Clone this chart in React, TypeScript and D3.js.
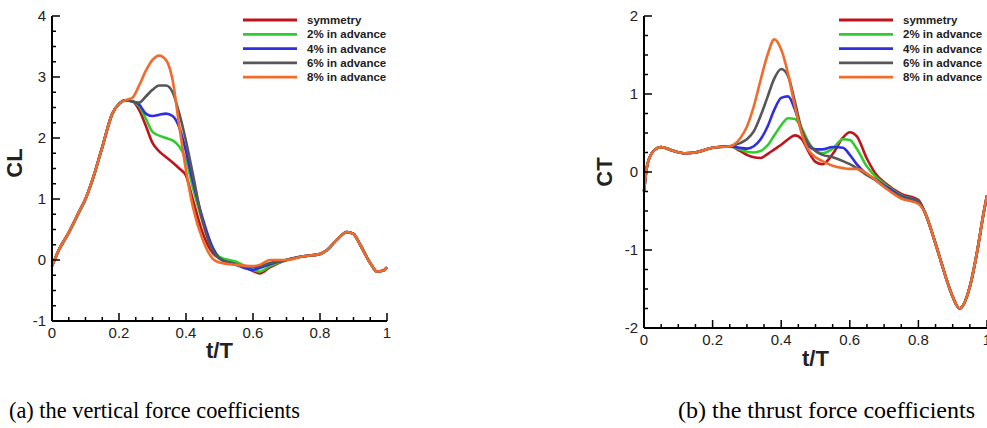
import * as d3 from 'd3'

// series names and colours
const seriesNames = ['symmetry', '2% in advance', '4% in advance', '6% in advance', '8% in advance']
const seriesColors = ['#c0141c', '#2fcc2f', '#2f2fe0', '#575757', '#f26b2a']

// (a) vertical force coefficient CL
const clTime = [0, 0.02, 0.05, 0.08, 0.1, 0.12, 0.15, 0.18, 0.2, 0.22,
  0.24, 0.26, 0.28, 0.3, 0.32, 0.34, 0.36, 0.38, 0.4, 0.42, 0.45, 0.48, 0.5, 0.55, 0.6, 0.62, 0.65,
  0.7, 0.75, 0.8, 0.82, 0.85, 0.88, 0.9, 0.92, 0.95, 0.97, 0.99, 1]
const clHead = [-0.1, 0.16, 0.45, 0.78, 1.0, 1.3, 1.85, 2.4, 2.56, 2.62]
const clTail = [0.0, 0.06, 0.1, 0.16, 0.33, 0.46, 0.43, 0.25, -0.05, -0.19, -0.17, -0.12]
const clSymmetry = [2.6, 2.46, 2.2, 1.92, 1.78, 1.69, 1.6, 1.5, 1.38, 1.0, 0.44, 0.11, 0.03, -0.04, -0.18, -0.22, -0.12]
const clAdv2 = [2.6, 2.52, 2.32, 2.1, 2.04, 2.0, 1.96, 1.86, 1.64, 1.2, 0.62, 0.2, 0.05, -0.03, -0.16, -0.19, -0.1]
const clAdv4 = [2.6, 2.55, 2.4, 2.36, 2.38, 2.4, 2.36, 2.17, 1.78, 1.3, 0.68, 0.2, 0.03, -0.08, -0.16, -0.13, -0.07]
const clAdv6 = [2.6, 2.58, 2.68, 2.79, 2.86, 2.86, 2.75, 2.4, 1.95, 1.42, 0.62, 0.15, 0.02, -0.08, -0.11, -0.1, -0.05]
const clAdv8 = [2.66, 2.86, 3.1, 3.28, 3.35, 3.28, 2.95, 2.19, 1.47, 0.88, 0.33, 0.02, -0.04, -0.08, -0.1, -0.08, 0.0]

// (b) thrust force coefficient CT
const ctTime = [0, 0.01, 0.03, 0.05, 0.08, 0.12, 0.15, 0.2, 0.25,
  0.28, 0.3, 0.32, 0.34, 0.36, 0.38, 0.4, 0.42, 0.44, 0.46, 0.48, 0.5, 0.52, 0.55, 0.58, 0.6, 0.62, 0.65, 0.68, 0.7, 0.75, 0.8,
  0.82, 0.85, 0.88, 0.9, 0.92, 0.95, 0.97, 0.99, 1]
const ctHead = [-0.25, 0.1, 0.28, 0.32, 0.28, 0.24, 0.25, 0.31, 0.33]
const ctTail = [-0.53, -0.92, -1.35, -1.6, -1.75, -1.47, -1.05, -0.53, -0.3]
const ctSymmetry = [0.27, 0.22, 0.19, 0.18, 0.23, 0.29, 0.35, 0.42, 0.47, 0.42, 0.26, 0.13, 0.1, 0.23, 0.44, 0.51, 0.46, 0.17, -0.05, -0.13, -0.28, -0.36]
const ctAdv2 = [0.29, 0.26, 0.25, 0.27, 0.34, 0.47, 0.6, 0.69, 0.68, 0.56, 0.38, 0.27, 0.24, 0.3, 0.42, 0.41, 0.3, 0.07, -0.08, -0.15, -0.3, -0.38]
const ctAdv4 = [0.31, 0.3, 0.33, 0.42, 0.58, 0.8, 0.95, 0.97, 0.8, 0.52, 0.33, 0.29, 0.29, 0.32, 0.31, 0.22, 0.1, -0.03, -0.11, -0.17, -0.31, -0.38]
const ctAdv6 = [0.37, 0.42, 0.52, 0.72, 0.96, 1.2, 1.32, 1.23, 0.9, 0.54, 0.36, 0.27, 0.22, 0.19, 0.14, 0.1, 0.05, -0.04, -0.12, -0.19, -0.32, -0.38]
const ctAdv8 = [0.43, 0.58, 0.84, 1.18, 1.5, 1.7, 1.57, 1.26, 0.84, 0.49, 0.28, 0.19, 0.14, 0.08, 0.05, 0.04, 0.04, -0.02, -0.12, -0.19, -0.34, -0.41]

const xTicks = [0, 0.2, 0.4, 0.6, 0.8, 1]

type Pt = { t: number; v: number }

function buildSeries(time: number[], head: number[], tail: number[], mids: number[][]): Pt[][] {
  return mids.map(m => [...head, ...m, ...tail].map((v, i) => ({ t: time[i], v })))
}

const sans = 'Liberation Sans, Arial, sans-serif'

function Panel({ x0, x1, yTop, yBottom, yDomain, yTicks, yTitle, data, legendX, legendY, titleX, titleY, xTitleY }: any) {
  const x = d3.scaleLinear().domain([0, 1]).range([x0, x1])
  const y = d3.scaleLinear().domain(yDomain).range([yBottom, yTop])
  const line = d3.line<Pt>().x(d => x(d.t)).y(d => y(d.v)).curve(d3.curveMonotoneX)

  const xMinor = d3.range(0, 1.0001, 0.05)
  const yMinor = d3.range(yDomain[0], yDomain[1] + 0.0001, 0.25)

  return (
    <g>
      {/* lines */}
      {data.map((s: Pt[], i: number) => (
        <path key={i} d={line(s) || ''} fill="none" stroke={seriesColors[i]} strokeWidth={2.6} strokeLinejoin="round" />
      ))}

      {/* axes */}
      <line x1={x0} x2={x1} y1={yBottom} y2={yBottom} stroke="#000" strokeWidth={2} />
      <line x1={x0} x2={x0} y1={yTop} y2={yBottom} stroke="#000" strokeWidth={2} />
      {xMinor.map((t, i) => (
        <line key={'xm' + i} x1={x(t)} x2={x(t)} y1={yBottom} y2={yBottom - (i % 4 === 0 ? 8 : 4)} stroke="#000" strokeWidth={1.5} />
      ))}
      {yMinor.map((v, i) => (
        <line key={'ym' + i} x1={x0} x2={x0 + (i % 4 === 0 ? 8 : 4)} y1={y(v)} y2={y(v)} stroke="#000" strokeWidth={1.5} />
      ))}
      {xTicks.map(t => (
        <text key={'xl' + t} x={x(t)} y={yBottom + 17} textAnchor="middle" fontSize={15} fontFamily={sans} fill="#222">
          {String(t)}
        </text>
      ))}
      {yTicks.map((v: number) => (
        <text key={'yl' + v} x={x0 - 6} y={y(v) + 5} textAnchor="end" fontSize={15} fontFamily={sans} fill="#222">
          {String(v)}
        </text>
      ))}

      {/* titles */}
      <text x={(x0 + x1) / 2} y={xTitleY} textAnchor="middle" fontSize={22} fontWeight="bold" fontFamily={sans} fill="#222">
        t/T
      </text>
      <text transform={`translate(${titleX},${titleY}) rotate(-90)`} textAnchor="middle" fontSize={22} fontWeight="bold" fontFamily={sans} fill="#222">
        {yTitle}
      </text>

      {/* legend */}
      {seriesNames.map((name, i) => (
        <g key={name} transform={`translate(${legendX},${legendY + i * 14.3})`}>
          <line x1={0} x2={54} y1={0} y2={0} stroke={seriesColors[i]} strokeWidth={2.8} />
          <text x={64} y={4} fontSize={11.5} fontWeight="bold" fontFamily={sans} fill="#222">
            {name}
          </text>
        </g>
      ))}
    </g>
  )
}

export default function App() {
  const clData = buildSeries(clTime, clHead, clTail, [clSymmetry, clAdv2, clAdv4, clAdv6, clAdv8])
  const ctData = buildSeries(ctTime, ctHead, ctTail, [ctSymmetry, ctAdv2, ctAdv4, ctAdv6, ctAdv8])

  return (
    <svg width={987} height={428} style={{ position: 'absolute', left: 0, top: 0, background: '#fff' }}>
      <Panel x0={52} x1={387} yTop={16} yBottom={321} yDomain={[-1, 4]} yTicks={[-1, 0, 1, 2, 3, 4]}
        yTitle="CL" data={clData} legendX={243} legendY={20} titleX={22} titleY={163} xTitleY={358} />
      <Panel x0={644} x1={987} yTop={16} yBottom={328} yDomain={[-2, 2]} yTicks={[-2, -1, 0, 1, 2]}
        yTitle="CT" data={ctData} legendX={839} legendY={20} titleX={612} titleY={172} xTitleY={366} />

      <text x={9} y={418} fontSize={24} textLength={291} lengthAdjust="spacingAndGlyphs"
        fontFamily="Liberation Serif, Times New Roman, serif" fill="#000">
        (a) the vertical force coefficients
      </text>
      <text x={678} y={418} fontSize={24} textLength={297} lengthAdjust="spacingAndGlyphs"
        fontFamily="Liberation Serif, Times New Roman, serif" fill="#000">
        (b) the thrust force coefficients
      </text>
    </svg>
  )
}
